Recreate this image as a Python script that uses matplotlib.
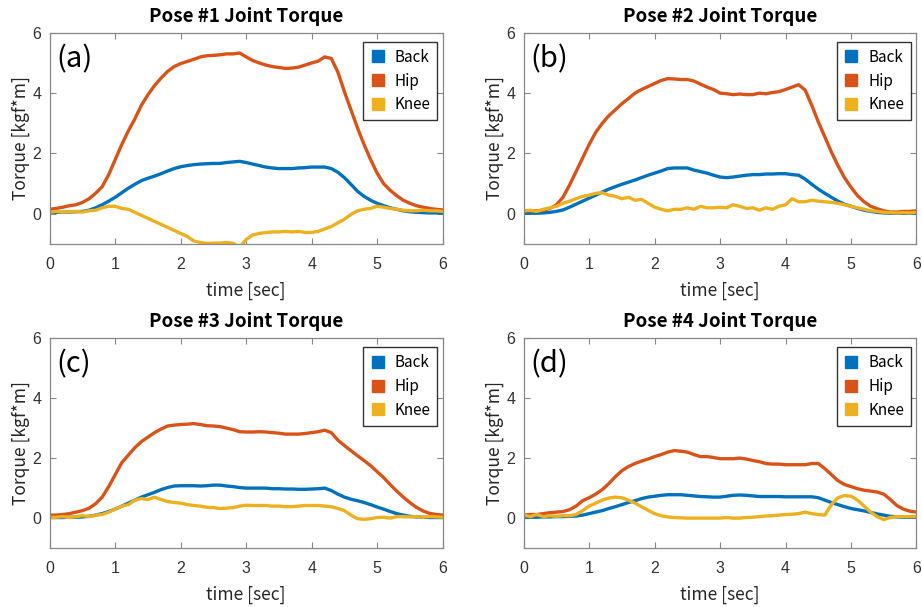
import matplotlib
matplotlib.use("Agg")
import matplotlib.pyplot as plt
from matplotlib.lines import Line2D

# time base: 0.0 .. 6.0 s, 0.1 s step
time = [i / 10 for i in range(61)]

back_a = [0.05, 0.05, 0.05, 0.06, 0.07, 0.08, 0.12, 0.2, 0.3, 0.42,
          0.55, 0.7, 0.85, 0.98, 1.1, 1.18, 1.25, 1.33, 1.42, 1.5,
          1.56, 1.6, 1.63, 1.65, 1.66, 1.67, 1.67, 1.7, 1.72, 1.74,
          1.7, 1.65, 1.6, 1.55, 1.52, 1.5, 1.5, 1.5, 1.52, 1.53,
          1.55, 1.55, 1.55, 1.5, 1.38, 1.2, 0.98, 0.75, 0.58, 0.45,
          0.35, 0.27, 0.2, 0.15, 0.1, 0.07, 0.05, 0.04, 0.03, 0.03, 0.03]
hip_a = [0.15, 0.18, 0.22, 0.27, 0.3, 0.38, 0.5, 0.68, 0.9, 1.3,
         1.8, 2.3, 2.75, 3.15, 3.6, 3.95, 4.25, 4.5, 4.72, 4.88,
         4.98, 5.05, 5.12, 5.2, 5.24, 5.25, 5.27, 5.3, 5.3, 5.33,
         5.2, 5.08, 5.0, 4.93, 4.88, 4.85, 4.82, 4.83, 4.86, 4.93,
         5.0, 5.06, 5.2, 5.15, 4.7, 4.05, 3.45, 2.85, 2.3, 1.8,
         1.35, 1.0, 0.78, 0.6, 0.45, 0.35, 0.27, 0.22, 0.18, 0.15, 0.13]
knee_a = [0.05, 0.08, 0.05, 0.07, 0.08, 0.06, 0.1, 0.12, 0.2, 0.25,
          0.25, 0.18, 0.15, 0.05, -0.05, -0.15, -0.25, -0.35, -0.45, -0.55,
          -0.65, -0.75, -0.9, -0.95, -0.98, -0.97, -0.97, -0.95, -0.98, -1.1,
          -0.85, -0.7, -0.65, -0.62, -0.6, -0.6, -0.58, -0.6, -0.58, -0.62,
          -0.62, -0.58, -0.5, -0.42, -0.3, -0.18, -0.02, 0.1, 0.15, 0.18,
          0.25, 0.22, 0.18, 0.15, 0.12, 0.1, 0.1, 0.12, 0.1, 0.1, 0.08]

back_b = [0.02, 0.02, 0.02, 0.03, 0.05, 0.08, 0.13, 0.22, 0.32, 0.42,
          0.52, 0.62, 0.72, 0.82, 0.9, 0.98, 1.05, 1.12, 1.2, 1.28,
          1.35, 1.42, 1.5, 1.52, 1.52, 1.52, 1.45, 1.4, 1.35, 1.28,
          1.22, 1.2, 1.22, 1.25, 1.28, 1.3, 1.3, 1.32, 1.32, 1.33,
          1.33, 1.3, 1.28, 1.15, 0.98, 0.82, 0.68, 0.55, 0.42, 0.32,
          0.25, 0.18, 0.12, 0.08, 0.05, 0.03, 0.02, 0.02, 0.02, 0.02, 0.02]
hip_b = [0.1, 0.1, 0.1, 0.12, 0.18, 0.3, 0.55, 0.95, 1.4, 1.85,
         2.3, 2.7, 3.0, 3.25, 3.45, 3.65, 3.82, 4.0, 4.12, 4.22,
         4.32, 4.42, 4.48, 4.47, 4.45, 4.45, 4.4, 4.3, 4.2, 4.12,
         4.0, 3.98, 3.95, 3.97, 3.95, 3.95, 4.0, 3.98, 4.02, 4.05,
         4.12, 4.2, 4.28, 4.1, 3.6, 3.05, 2.55, 2.05, 1.6, 1.2,
         0.88, 0.6, 0.4, 0.25, 0.17, 0.1, 0.06, 0.06, 0.08, 0.08, 0.1]
knee_b = [0.1, 0.12, 0.08, 0.15, 0.2, 0.25, 0.35, 0.42, 0.5, 0.58,
          0.62, 0.68, 0.7, 0.62, 0.58, 0.5, 0.55, 0.45, 0.48, 0.35,
          0.22, 0.15, 0.1, 0.15, 0.15, 0.2, 0.15, 0.25, 0.2, 0.2,
          0.22, 0.2, 0.3, 0.25, 0.18, 0.2, 0.12, 0.2, 0.15, 0.25,
          0.3, 0.5, 0.4, 0.4, 0.45, 0.42, 0.4, 0.38, 0.35, 0.3,
          0.25, 0.2, 0.15, 0.1, 0.08, 0.05, 0.04, 0.03, 0.04, 0.03, 0.05]

back_c = [0.02, 0.02, 0.02, 0.03, 0.03, 0.04, 0.06, 0.1, 0.15, 0.22,
          0.3, 0.4, 0.5, 0.6, 0.7, 0.78, 0.86, 0.95, 1.02, 1.07,
          1.08, 1.08, 1.08, 1.07, 1.08, 1.1, 1.1, 1.07, 1.05, 1.02,
          1.0, 1.0, 1.0, 1.0, 0.98, 0.98, 0.97, 0.97, 0.96, 0.96,
          0.97, 0.98, 1.0, 0.92, 0.8, 0.7, 0.63, 0.58, 0.52, 0.45,
          0.37, 0.3, 0.22, 0.15, 0.1, 0.06, 0.04, 0.03, 0.02, 0.02, 0.02]
hip_c = [0.1, 0.1, 0.12, 0.15, 0.2, 0.25, 0.33, 0.48, 0.7, 1.05,
         1.45, 1.85, 2.1, 2.35, 2.55, 2.7, 2.85, 2.97, 3.07, 3.1,
         3.12, 3.13, 3.15, 3.12, 3.08, 3.07, 3.05, 3.0, 2.95, 2.88,
         2.87, 2.87, 2.88, 2.87, 2.85, 2.83, 2.8, 2.8, 2.8, 2.82,
         2.85, 2.88, 2.93, 2.85, 2.6, 2.42, 2.25, 2.08, 1.92, 1.75,
         1.55, 1.35, 1.12, 0.9, 0.7, 0.52, 0.36, 0.24, 0.16, 0.12, 0.1]
knee_c = [0.02, 0.03, 0.05, 0.02, 0.05, 0.08, 0.05, 0.1, 0.12, 0.2,
          0.3, 0.4, 0.45, 0.6, 0.65, 0.62, 0.7, 0.62, 0.55, 0.52,
          0.5, 0.45, 0.42, 0.4, 0.36, 0.35, 0.32, 0.33, 0.35, 0.4,
          0.43, 0.42, 0.42, 0.42, 0.4, 0.4, 0.38, 0.38, 0.4, 0.42,
          0.42, 0.42, 0.4, 0.38, 0.32, 0.25, 0.1, -0.02, -0.04, -0.02,
          0.02, 0.03, 0.0, 0.05, 0.05, 0.04, 0.05, 0.03, 0.05, 0.04, 0.03]

back_d = [0.03, 0.03, 0.03, 0.04, 0.04, 0.05, 0.05, 0.06, 0.07, 0.1,
          0.15, 0.2, 0.25, 0.32, 0.38, 0.45, 0.52, 0.58, 0.65, 0.7,
          0.73, 0.76, 0.78, 0.78, 0.78, 0.76, 0.74, 0.72, 0.71, 0.7,
          0.7, 0.73, 0.76, 0.77, 0.76, 0.74, 0.72, 0.72, 0.72, 0.72,
          0.71, 0.71, 0.71, 0.71, 0.71, 0.68, 0.6, 0.52, 0.45, 0.38,
          0.32, 0.28, 0.24, 0.19, 0.14, 0.1, 0.06, 0.04, 0.03, 0.03, 0.03]
hip_d = [0.1, 0.12, 0.12, 0.15, 0.18, 0.2, 0.22, 0.28, 0.4, 0.58,
         0.68, 0.8, 0.95, 1.15, 1.38, 1.58, 1.72, 1.82, 1.9, 1.97,
         2.05, 2.12, 2.2, 2.25, 2.23, 2.2, 2.12, 2.05, 2.05, 2.02,
         1.98, 1.98, 1.98, 2.0, 1.97, 1.92, 1.88, 1.82, 1.8, 1.8,
         1.78, 1.78, 1.78, 1.78, 1.82, 1.82, 1.65, 1.45, 1.25, 1.12,
         1.05, 0.98, 0.93, 0.9, 0.87, 0.8, 0.62, 0.42, 0.3, 0.23, 0.2]
knee_d = [0.1, 0.05, 0.12, 0.05, 0.08, 0.06, 0.08, 0.08, 0.12, 0.25,
          0.4, 0.5, 0.6, 0.67, 0.7, 0.68, 0.6, 0.5, 0.38, 0.26,
          0.15, 0.08, 0.04, 0.02, 0.01, 0.0, 0.0, 0.0, 0.0, 0.0,
          0.0, 0.02, 0.0, 0.0, 0.02, 0.03, 0.05, 0.07, 0.08, 0.1,
          0.12, 0.13, 0.15, 0.2, 0.15, 0.12, 0.1, 0.45, 0.68, 0.75,
          0.73, 0.6, 0.4, 0.2, 0.05, -0.05, 0.02, 0.05, 0.05, 0.05, 0.05]

titles = ["Pose #1 Joint Torque", "Pose #2 Joint Torque",
          "Pose #3 Joint Torque", "Pose #4 Joint Torque"]
tags = ["(a)", "(b)", "(c)", "(d)"]
joints = ["Back", "Hip", "Knee"]
colors = ["#0072BD", "#D95319", "#EDB120"]

panels = [(back_a, hip_a, knee_a), (back_b, hip_b, knee_b),
          (back_c, hip_c, knee_c), (back_d, hip_d, knee_d)]

# axes boxes in figure fractions (left, bottom, width, height)
boxes = [(0.054, 0.598, 0.426, 0.348), (0.568, 0.598, 0.426, 0.348),
         (0.054, 0.097, 0.426, 0.346), (0.568, 0.097, 0.426, 0.346)]

# tick numbers in an Arial-like face, other text in a Malgun-like face
plt.rcParams['font.family'] = ['Liberation Sans', 'DejaVu Sans']
kr = ["Noto Sans CJK KR", "DejaVu Sans"]

fig = plt.figure(figsize=(9.22, 6.07), dpi=100)

for k in range(4):
    ax = fig.add_axes(boxes[k])
    for series, c in zip(panels[k], colors):
        ax.plot(time, series, color=c, lw=2.4)
    ax.set_xlim(0, 6)
    ax.set_ylim(-1, 6)
    ax.set_xticks([0, 1, 2, 3, 4, 5, 6])
    ax.set_yticks([0, 2, 4, 6])
    ax.tick_params(direction="in", length=4, width=0.8, color="#888888",
                   top=True, right=True, labelsize=11.5, labelcolor="#333333")
    ax.tick_params(axis="x", pad=9)
    ax.tick_params(axis="y", pad=6)
    for s in ax.spines.values():
        s.set_color("#888888")
        s.set_linewidth(0.9)
    ax.set_title(titles[k], fontfamily=kr, fontweight="bold", fontsize=13.5, pad=8)
    ax.set_xlabel("time [sec]", fontfamily=kr, fontsize=12.5, color="#262626", labelpad=7)
    ax.set_ylabel("Torque [kgf*m]", fontfamily=kr, fontsize=12.5, color="#262626", labelpad=2)
    ax.text(0.018, 0.945, tags[k], transform=ax.transAxes, ha="left", va="top",
            fontfamily=kr, fontsize=21)
    handles = [Line2D([], [], ls="none", marker="s", markersize=9, color=c) for c in colors]
    leg = ax.legend(handles, joints, loc="upper right", prop={"family": kr, "size": 11},
                    frameon=True, fancybox=False, edgecolor="black", handlelength=1.0,
                    handletextpad=0.6, borderpad=0.45, labelspacing=0.45,
                    borderaxespad=0, bbox_to_anchor=(0.986, 0.957))
    leg.get_frame().set_linewidth(1.0)

fig.savefig("out.png", dpi=100)
